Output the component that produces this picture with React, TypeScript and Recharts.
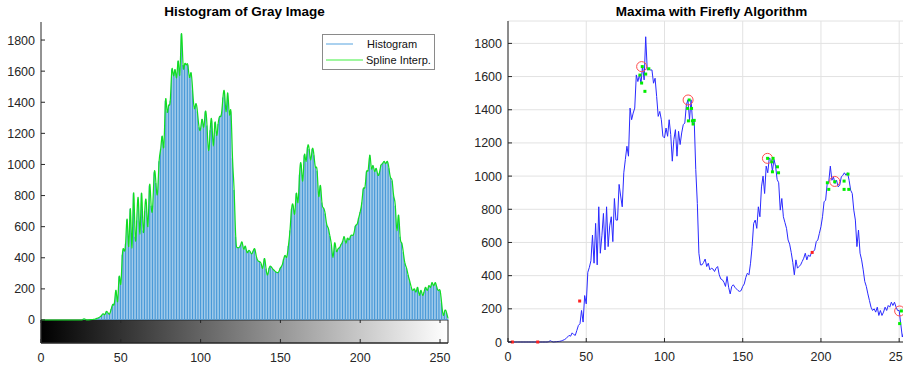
import React from 'react'
import {
  ComposedChart, Bar, Line, Scatter, XAxis, YAxis,
  CartesianGrid, ReferenceArea, Legend
} from 'recharts'

// gray level ticks and count ticks shared by both panels
const grayTicks = [0, 50, 100, 150, 200, 250]
const countTicks = [0, 200, 400, 600, 800, 1000, 1200, 1400, 1600, 1800]

// pixel count per gray level 0..255
const histCounts = [
  0, 0, 0, 0, 0, 0, 0, 0, 0, 0, 0, 0, 0, 0, 0, 0, 0, 0, 0, 0, 0, 0, 0, 0, 0, 0,
  2, 8, 3, 0, 1, 2, 3, 4, 6, 10,
  14, 20, 30, 40, 35, 55, 45, 40, 70, 100,
  110, 190, 120, 280, 230, 420, 450, 490, 645, 475,
  715, 465, 815, 535, 640, 775, 555, 815, 575, 700,
  755, 605, 865, 735, 735, 950, 880, 815, 1020, 1100,
  1180, 1120, 1410, 1340, 1380, 1410, 1610, 1570, 1610, 1560,
  1665, 1580, 1840, 1640, 1645, 1640, 1640, 1560, 1590, 1480,
  1360, 1390, 1340, 1240, 1230, 1290, 1240, 1340, 1250, 1090,
  1220, 1280, 1120, 1270, 1190, 1260, 1310, 1320, 1430, 1460,
  1340, 1460, 1320, 1340, 1040, 835, 535, 465, 465, 480,
  500, 455, 475, 435, 445, 440, 425, 445, 455, 405,
  380, 375, 360, 335, 395, 330, 290, 335, 345, 330,
  320, 310, 305, 310, 335, 350, 390, 415, 405, 475,
  575, 715, 735, 685, 815, 755, 935, 1000, 895, 1060,
  1020, 1110, 1100, 1030, 1100, 1060, 980, 960, 795, 865,
  755, 720, 685, 615, 590, 540, 480, 405, 495, 445,
  455, 465, 485, 505, 535, 495, 525, 515, 540, 545,
  555, 605, 615, 655, 695, 755, 845, 855, 955, 965,
  1060, 975, 995, 955, 975, 935, 945, 995, 1005, 1020,
  1005, 1020, 975, 915, 895, 795, 735, 575, 675, 535,
  495, 435, 365, 335, 290, 250, 210, 190, 200, 180,
  210, 160, 190, 160, 180, 210, 190, 220, 210, 240,
  220, 240, 210, 190, 190, 110, 30, 60, 50, 10,
]

// maxima found (red circles)
const maximaGray = [85.4, 115.1, 165.8, 208.8, 250.3]
const maximaCount = [1660, 1459, 1107, 968, 187]

// final firefly positions (green dots)
const fireflyGray = [
  84.3, 85.4, 87.5, 88, 90, 85.8,
  115.8, 114.8, 117.3, 115.3, 117.8, 119, 118.3,
  165.9, 169.4, 168.6, 172.2, 169, 172.9,
  204.1, 205, 208.8, 214.8, 214.8, 217.8, 217.3,
  251.4, 250.3,
]
const fireflyCount = [
  1609, 1561, 1511, 1615, 1647, 1660,
  1459, 1408, 1408, 1333, 1333, 1336, 1314,
  1107, 1107, 1086, 1056, 1026, 1020,
  960, 920, 966, 970, 920, 920, 1012,
  187, 111,
]

// stray fireflies (red dots)
const strayGray = [2.8, 19, 45.8, 194.4]
const strayCount = [0, 0, 247, 540]

const histData = histCounts.map((c, g) => ({ g, c }))
const maximaData = maximaGray.map((g, i) => ({ g, c: maximaCount[i] }))
const fireflyData = fireflyGray.map((g, i) => ({ g, c: fireflyCount[i] }))
const strayData = strayGray.map((g, i) => ({ g, c: strayCount[i] }))

const INK = '#262626'
const FONT = '"Liberation Sans", Arial, Helvetica, sans-serif'

const BottomTick = ({ x, y, payload, band }: any) => (
  <g>
    <line x1={x} x2={x} y1={y} y2={y - 4} stroke={INK} />
    {band ? <line x1={x} x2={x} y1={y - band} y2={y - band + 3} stroke={INK} /> : null}
    <text x={x} y={y + 18.5} textAnchor="middle" fill={INK} fontSize={12.5} fontFamily={FONT}>
      {payload.value}
    </text>
  </g>
)

const TopTick = ({ x, y }: any) => <line x1={x} x2={x} y1={y} y2={y + 4} stroke={INK} />

const LeftTick = ({ x, y, payload }: any) => (
  <g>
    <line x1={x} x2={x + 4} y1={y} y2={y} stroke={INK} />
    <text x={x - 6} y={y + 4.5} textAnchor="end" fill={INK} fontSize={12.5} fontFamily={FONT}>
      {payload.value}
    </text>
  </g>
)

const RightTick = ({ x, y }: any) => <line x1={x} x2={x - 4} y1={y} y2={y} stroke={INK} />

const Ring = ({ cx, cy }: any) => (
  <circle cx={cx} cy={cy} r={5} fill="none" stroke="#ff4d4d" strokeWidth={1} />
)
const GreenDot = ({ cx, cy }: any) => <rect x={cx - 1.5} y={cy - 1.5} width={3} height={3} fill="#00ee00" />
const RedDot = ({ cx, cy }: any) => <rect x={cx - 1.5} y={cy - 1.5} width={3} height={3} fill="#ff2020" />

const LegendBox = () => (
  <div style={{
    width: 113, height: 36, boxSizing: 'border-box', border: '1px solid #8a8a8a',
    background: '#fff', position: 'relative', fontFamily: FONT, fontSize: 11, color: '#111',
  }}>
    <svg width={111} height={34} style={{ position: 'absolute', left: 0, top: 0 }}>
      <line x1={3} x2={30} y1={9} y2={9} stroke="#8ec2ea" strokeWidth={1.5} />
      <line x1={3} x2={40} y1={25} y2={25} stroke="#7ff57f" strokeWidth={1.5} />
    </svg>
    <span style={{ position: 'absolute', left: 44, top: 1, lineHeight: '16px' }}>Histogram</span>
    <span style={{ position: 'absolute', left: 43, top: 17, lineHeight: '16px' }}>Spline Interp.</span>
  </div>
)

const titleStyle = (left: number, width: number): React.CSSProperties => ({
  position: 'absolute', left, width, top: 3, lineHeight: '17px', textAlign: 'center',
  fontFamily: FONT, fontSize: 13.5, fontWeight: 'bold', color: '#000',
})

export default function App() {
  return (
    <div style={{
      position: 'absolute', left: 0, top: 0, width: 903, height: 370,
      overflow: 'hidden', background: '#fff',
    }}>
      <div style={titleStyle(41, 407)}>Histogram of Gray Image</div>
      <div style={titleStyle(508, 407)}>Maxima with Firefly Algorithm</div>

      <div style={{ position: 'absolute', left: 0, top: 0 }}>
        <ComposedChart width={460} height={370} data={histData}
          margin={{ top: 22, right: 12, bottom: 0, left: 0 }}>
          <defs>
            <linearGradient id="grayRamp" x1="0" y1="0" x2="1" y2="0">
              <stop offset="0%" stopColor="#000" />
              <stop offset="100%" stopColor="#fff" />
            </linearGradient>
          </defs>
          <XAxis dataKey="g" type="number" domain={[0, 255]} ticks={grayTicks}
            height={27} tickSize={0} tickMargin={0} tickLine={false}
            axisLine={{ stroke: INK }} interval={0}
            tick={(p: any) => <BottomTick {...p} band={23} />} />
          <XAxis xAxisId="top" dataKey="g" type="number" orientation="top" domain={[0, 255]}
            ticks={grayTicks} height={0} tickSize={0} tickMargin={0} tickLine={false}
            axisLine={{ stroke: INK }} interval={0} tick={<TopTick />} />
          <YAxis type="number" domain={[-148, 1916]} ticks={countTicks} width={41}
            tickSize={0} tickMargin={0} tickLine={false} axisLine={{ stroke: INK }}
            interval={0} tick={<LeftTick />} />
          <YAxis yAxisId="r" orientation="right" type="number" domain={[-148, 1916]}
            ticks={countTicks} width={0} tickSize={0} tickMargin={0} tickLine={false}
            axisLine={{ stroke: INK }} interval={0} tick={<RightTick />} />
          <Bar dataKey="c" fill="#4a9ad8" barSize={1.2} isAnimationActive={false} />
          <Line dataKey="c" type="natural" stroke="#11dd22" strokeWidth={1.2}
            dot={false} isAnimationActive={false} />
          <ReferenceArea x1={0} x2={255} y1={-148} y2={0} fill="url(#grayRamp)"
            fillOpacity={1} stroke={INK} strokeWidth={1} />
          <Legend layout="vertical" align="center" verticalAlign="middle"
            content={<LegendBox />}
            wrapperStyle={{ left: 322, top: 34, width: 113, height: 36 }} />
        </ComposedChart>
      </div>

      <div style={{ position: 'absolute', left: 460, top: 0 }}>
        <ComposedChart width={460} height={370} data={histData}
          margin={{ top: 21, right: 13, bottom: 0, left: 0 }}>
          <CartesianGrid stroke="#e2e2e2" />
          <XAxis dataKey="g" type="number" domain={[0, 255]} ticks={grayTicks}
            height={28} tickSize={0} tickMargin={0} tickLine={false}
            axisLine={{ stroke: INK }} interval={0} tick={<BottomTick />} />
          <XAxis xAxisId="top" dataKey="g" type="number" orientation="top" domain={[0, 255]}
            ticks={grayTicks} height={0} tickSize={0} tickMargin={0} tickLine={false}
            axisLine={{ stroke: INK }} interval={0} tick={<TopTick />} />
          <YAxis type="number" domain={[0, 1935]} ticks={countTicks} width={48}
            tickSize={0} tickMargin={0} tickLine={false} axisLine={{ stroke: INK }}
            interval={0} tick={<LeftTick />} />
          <Line dataKey="c" type="linear" stroke="#2a2aff" strokeWidth={1}
            dot={false} isAnimationActive={false} />
          <Scatter data={strayData} dataKey="c" shape={<RedDot />} isAnimationActive={false} />
          <Scatter data={maximaData} dataKey="c" shape={<Ring />} isAnimationActive={false} />
          <Scatter data={fireflyData} dataKey="c" shape={<GreenDot />} isAnimationActive={false} />
        </ComposedChart>
      </div>
    </div>
  )
}
